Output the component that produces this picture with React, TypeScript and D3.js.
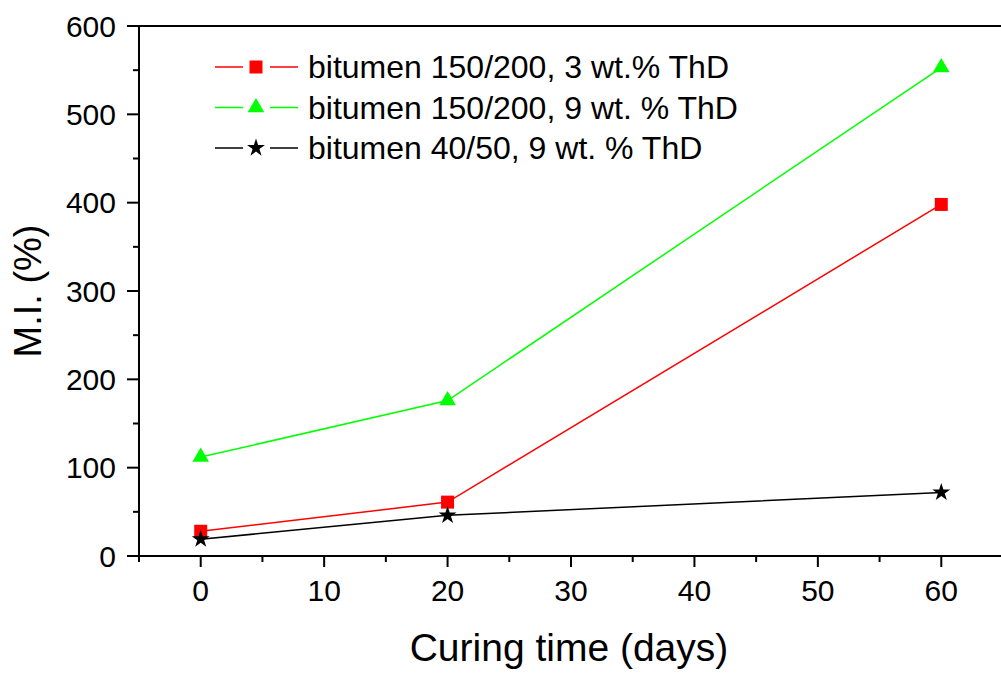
import React from "react";
import * as d3 from "d3";

const curingDays = [0, 20, 60];
const mi3wt150 = [28, 61, 398];
const mi9wt150 = [112, 176, 553];
const mi9wt40 = [19, 46, 72];
const seriesNames = [
  "bitumen 150/200, 3 wt.% ThD",
  "bitumen 150/200, 9 wt. % ThD",
  "bitumen 40/50, 9 wt. % ThD",
];
const xMajorTicks = [0, 10, 20, 30, 40, 50, 60];
const yMajorTicks = [0, 100, 200, 300, 400, 500, 600];

const W = 1001, H = 675;
const L = 139, T = 26, R = 1003, B = 556;
const FONT = "'Liberation Sans', Arial, sans-serif";

export default function App() {
  const x = d3.scaleLinear().domain([-5, 65]).range([L, R]);
  const y = d3.scaleLinear().domain([0, 600]).range([B, T]);
  const line = d3.line<[number, number]>().x(d => x(d[0])).y(d => y(d[1]));

  const series = [
    { name: seriesNames[0], vals: mi3wt150, color: "#ff0000", shape: "square" },
    { name: seriesNames[1], vals: mi9wt150, color: "#00ff00", shape: "triangle" },
    { name: seriesNames[2], vals: mi9wt40, color: "#000000", shape: "star" },
  ];

  const sym = (shape: string) => {
    if (shape === "square") return d3.symbol(d3.symbolSquare, 169)();
    if (shape === "triangle") return d3.symbol(d3.symbolTriangle, 120)();
    return d3.symbol(d3.symbolStar, 100)();
  };

  const xMinor = d3.range(-5, 66, 5).filter(v => !xMajorTicks.includes(v));
  const yMinor = d3.range(50, 600, 100);

  return (
    <svg width={W} height={H} style={{ position: "absolute", left: 0, top: 0, background: "#fff" }}>
      <rect x={0} y={0} width={W} height={H} fill="#fff" />
      {series.map((s, i) => (
        <path key={"l" + i}
          d={line(curingDays.map((d, j) => [d, s.vals[j]] as [number, number])) || ""}
          fill="none" stroke={s.color} strokeWidth={1.5} />
      ))}
      {series.map((s, i) => curingDays.map((d, j) => (
        <path key={"m" + i + "-" + j} d={sym(s.shape) || ""}
          transform={`translate(${x(d)},${y(s.vals[j])})`} fill={s.color} />
      )))}
      <line x1={L} y1={T} x2={L} y2={B} stroke="#000" strokeWidth={2} />
      <line x1={L - 1} y1={B} x2={W} y2={B} stroke="#000" strokeWidth={2} />
      <line x1={L - 1} y1={T} x2={W} y2={T} stroke="#000" strokeWidth={2} />
      {yMajorTicks.map(v => (
        <g key={"yt" + v}>
          <line x1={L - 12} x2={L} y1={y(v)} y2={y(v)} stroke="#000" strokeWidth={2} />
          <text x={L - 23} y={y(v) + 10.5} textAnchor="end" fontFamily={FONT} fontSize={30}>{v}</text>
        </g>
      ))}
      {yMinor.map(v => (
        <line key={"ym" + v} x1={L - 6} x2={L} y1={y(v)} y2={y(v)} stroke="#000" strokeWidth={2} />
      ))}
      {xMajorTicks.map(v => (
        <g key={"xt" + v}>
          <line x1={x(v)} x2={x(v)} y1={B} y2={B + 11} stroke="#000" strokeWidth={2} />
          <text x={x(v)} y={B + 45} textAnchor="middle" fontFamily={FONT} fontSize={30}>{v}</text>
        </g>
      ))}
      {xMinor.map(v => (
        <line key={"xm" + v} x1={x(v)} x2={x(v)} y1={B} y2={B + 6} stroke="#000" strokeWidth={2} />
      ))}
      <text x={569} y={661} textAnchor="middle" fontFamily={FONT} fontSize={39}>Curing time (days)</text>
      <text transform={`translate(41,${(T + B) / 2}) rotate(-90)`} textAnchor="middle" fontFamily={FONT} fontSize={38}>M.I. (%)</text>
      {series.map((s, i) => {
        const ly = 67 + i * 40.5;
        return (
          <g key={"lg" + i}>
            <line x1={215} x2={243} y1={ly} y2={ly} stroke={s.color} strokeWidth={1.5} />
            <line x1={270} x2={298} y1={ly} y2={ly} stroke={s.color} strokeWidth={1.5} />
            <path d={sym(s.shape) || ""} transform={`translate(256,${ly})`} fill={s.color} />
            <text x={308} y={ly + 11} fontFamily={FONT} fontSize={32}>{s.name}</text>
          </g>
        );
      })}
    </svg>
  );
}
